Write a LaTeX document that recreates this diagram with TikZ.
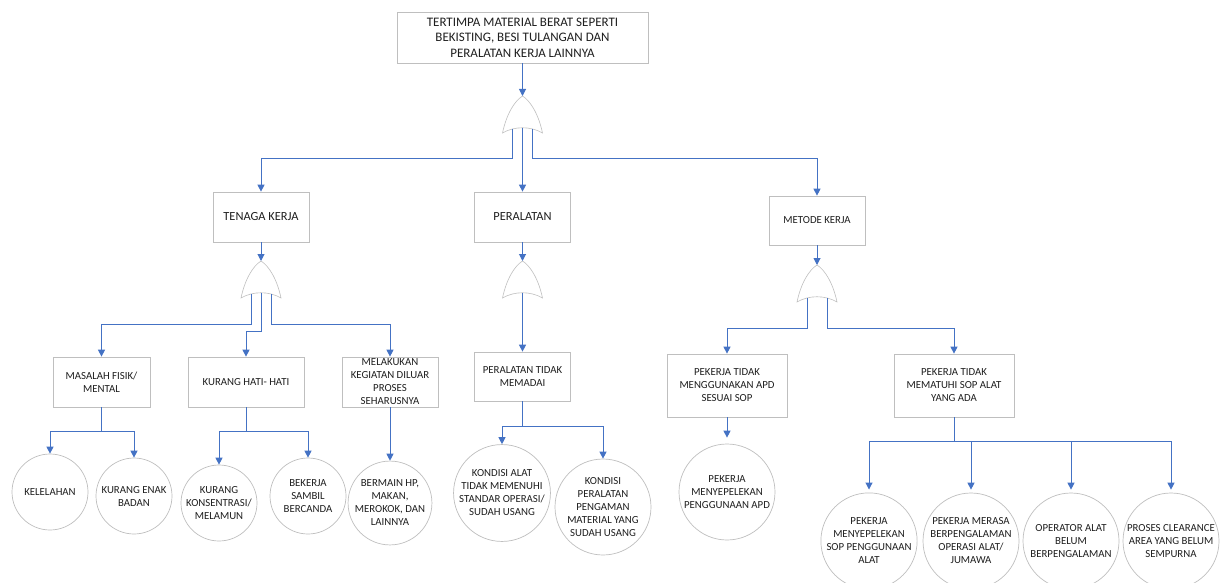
\documentclass[tikz,border=0pt]{standalone}
\usepackage{fontspec}
\setmainfont{Carlito}
\usetikzlibrary{arrows.meta}
\definecolor{linkblue}{HTML}{4472C4}
\definecolor{edgegray}{HTML}{BFBFBF}
\definecolor{txtgray}{HTML}{1F1F1F}
\tikzset{
  event/.style={draw=edgegray, line width=0.7pt, fill=white, align=center,
    inner sep=1pt, text=txtgray, font=\fontsize{10.8}{13}\selectfont},
  basic/.style={circle, draw=edgegray, line width=0.7pt, fill=white, align=center,
    inner sep=0pt, minimum size=76pt, text=txtgray, font=\fontsize{10.8}{13}\selectfont},
  bigbasic/.style={basic, minimum size=96pt},
  link/.style={draw=linkblue, line width=1pt, -{Triangle[width=7pt,length=7pt]}},
  orgate/.pic={
    \draw[edgegray, line width=0.6pt, fill=white] (-20,37) .. controls (-16,18) and (-8,5) .. (0,0)
      .. controls (8,5) and (16,18) .. (20,37) .. controls (8,30) and (-8,30) .. cycle;
    \coordinate (-in) at (0,0);
    \coordinate (-l) at (-10,33);
    \coordinate (-m) at (0,32);
    \coordinate (-r) at (10,33);
  }
}
\begin{document}
\begin{tikzpicture}[x=1pt, y=-1pt]
  \clip (0,0) rectangle (1223,583);
  \useasboundingbox (0,0) rectangle (1223,583);
  % top event
  \node[event, minimum width=251pt, minimum height=51pt, font=\fontsize{13}{15.5}\selectfont] (top) at (522.5,37.5)
    {TERTIMPA MATERIAL BERAT SEPERTI\\BEKISTING, BESI TULANGAN DAN\\PERALATAN KERJA LAINNYA};
  \pic (g1) at (522.5,96) {orgate};
  % level 1
  \node[event, minimum width=96pt, minimum height=50pt, font=\fontsize{12.4}{13}\selectfont] (tk) at (261,217) {TENAGA KERJA};
  \node[event, minimum width=96pt, minimum height=50pt, font=\fontsize{12.4}{13}\selectfont] (per) at (522.5,217) {PERALATAN};
  \node[event, minimum width=96pt, minimum height=49pt] (mk) at (817,220.5) {METODE KERJA};
  \pic (g2) at (261,261) {orgate};
  \pic (g3) at (522.5,261) {orgate};
  \pic (g4) at (817,265) {orgate};
  % level 2
  \node[event, minimum width=97pt, minimum height=50pt] (ms) at (101.5,382) {MASALAH FISIK/\\MENTAL};
  \node[event, minimum width=116pt, minimum height=50pt] (kh) at (246,382) {KURANG HATI- HATI};
  \node[event, minimum width=96pt, minimum height=50pt] (mel) at (390,382) {MELAKUKAN\\KEGIATAN DILUAR\\PROSES\\SEHARUSNYA};
  \node[event, minimum width=96pt, minimum height=49pt] (ptm) at (522.5,376.5) {PERALATAN TIDAK\\MEMADAI};
  \node[event, minimum width=120pt, minimum height=63pt] (apd) at (727,385.5) {PEKERJA TIDAK\\MENGGUNAKAN APD\\SESUAI SOP};
  \node[event, minimum width=120pt, minimum height=63pt] (sop) at (954,385.5) {PEKERJA TIDAK\\MEMATUHI SOP ALAT\\YANG ADA};
  % basic events
  \node[basic] (kel) at (50,492) {KELELAHAN};
  \node[basic] (ken) at (134,496) {KURANG ENAK\\BADAN};
  \node[basic] (kon) at (219,503) {KURANG\\KONSENTRASI/\\MELAMUN};
  \node[basic] (bek) at (308,496) {BEKERJA\\SAMBIL\\BERCANDA};
  \node[basic] (ber) at (390,503) {BERMAIN HP,\\MAKAN,\\MEROKOK, DAN\\LAINNYA};
  \node[bigbasic] (ka) at (502,493) {KONDISI ALAT\\TIDAK MEMENUHI\\STANDAR OPERASI/\\SUDAH USANG};
  \node[bigbasic] (kp) at (603,507) {KONDISI\\PERALATAN\\PENGAMAN\\MATERIAL YANG\\SUDAH USANG};
  \node[bigbasic] (pm) at (727,492) {PEKERJA\\MENYEPELEKAN\\PENGGUNAAN APD};
  \node[bigbasic] (c1) at (869,541) {PEKERJA\\MENYEPELEKAN\\SOP PENGGUNAAN\\ALAT};
  \node[bigbasic] (c2) at (971,541) {PEKERJA MERASA\\BERPENGALAMAN\\OPERASI ALAT/\\JUMAWA};
  \node[bigbasic] (c3) at (1071,541) {OPERATOR ALAT\\BELUM\\BERPENGALAMAN};
  \node[bigbasic] (c4) at (1171,541) {PROSES CLEARANCE\\AREA YANG BELUM\\SEMPURNA};
  % connectors
  \draw[link] (top.south) -- (g1-in);
  \draw[link] (g1-l) -- ++(0,29) -| (tk.north);
  \draw[link] (g1-m) -- (per.north);
  \draw[link] (g1-r) -- ++(0,29) -| (mk.north);
  \draw[link] (tk.south) -- (g2-in);
  \draw[link] (per.south) -- (g3-in);
  \draw[link] (mk.south) -- (g4-in);
  \draw[link] (g2-l) -- ++(0,30) -| (ms.north);
  \draw[link] (g2-m) -- ++(0,38) -| (kh.north);
  \draw[link] (g2-r) -- ++(0,30) -| (mel.north);
  \draw[link] (g3-m) -- (ptm.north);
  \draw[link] (g4-l) -- ++(0,30) -| (apd.north);
  \draw[link] (g4-r) -- ++(0,30) -| (sop.north);
  \foreach \c in {kel,ken}
    \draw[link] (ms.south) -- ++(0,24) -| (\c.north);
  \foreach \c in {kon,bek}
    \draw[link] (kh.south) -- ++(0,24) -| (\c.north);
  \draw[link] (mel.south) -- (ber.north);
  \foreach \c in {ka,kp}
    \draw[link] (ptm.south) -- ++(0,25) -| (\c.north);
  \draw[link, shorten >=6pt] (apd.south) -- (pm.north);
  \foreach \c in {c1,c2,c3,c4}
    \draw[link, shorten >=3pt] (sop.south) -- ++(0,24) -| (\c.north);
\end{tikzpicture}
\end{document}
